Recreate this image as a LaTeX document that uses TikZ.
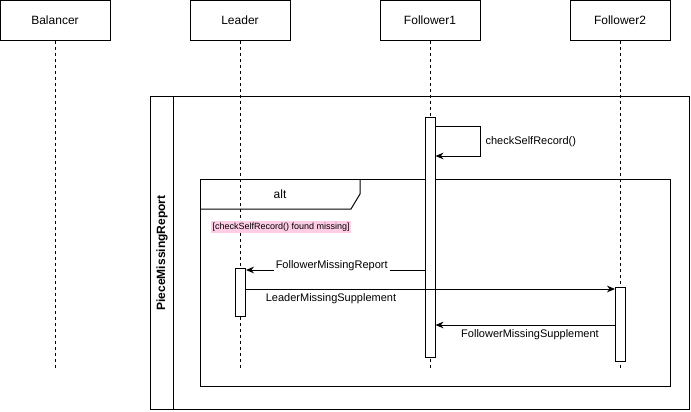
\documentclass[tikz,border=0pt]{standalone}
\usepackage{fontspec}
\setmainfont{Liberation Sans}
\usetikzlibrary{arrows.meta}
\definecolor{guardpink}{HTML}{FFCCE6}
\begin{document}
\begin{tikzpicture}[x=0.75pt,y=-0.75pt,
  head/.style={draw,line width=0.75pt,minimum height=30pt,inner sep=0pt,font=\fontsize{9}{11}\selectfont},
  life/.style={line width=0.6pt,dash pattern=on 2.25pt off 2.25pt},
  actbox/.style={draw,fill=white,line width=0.75pt,minimum width=7.5pt,inner sep=0pt},
  frame/.style={draw,line width=0.75pt},
  msg/.style={line width=0.75pt,-{Stealth[length=6pt,width=5pt]}},
  lbl/.style={font=\fontsize{8.25}{10}\selectfont,inner sep=1pt}]
\useasboundingbox (0,0) rectangle (691,411);
% headers
\node[head,minimum width=82.5pt] (bal) at (55,20) {Balancer};
\node[head,minimum width=75pt] (lead) at (240,20) {Leader};
\node[head,minimum width=75pt] (f1) at (430,20) {Follower1};
\node[head,minimum width=75pt] (f2) at (620,20) {Follower2};
% lifeline ends
\coordinate (balend) at (55,368);
\coordinate (leadend) at (240,368);
\coordinate (f1end) at (430,368);
\coordinate (f2end) at (620,368);
\draw[life] (bal.south) -- (balend);
\draw[life] (lead.south) -- (leadend);
\draw[life] (f1.south) -- (f1end);
\draw[life] (f2.south) -- (f2end);
% outer frame
\draw[frame] (150.5,96) rectangle (689.5,409.5);
\draw[frame] (173,96) -- (173,409.5);
\node[rotate=90,font=\fontsize{9}{11}\selectfont\bfseries] (pmr) at (162,253) {PieceMissingReport};
% alt frame
\draw[frame] (200,179.5) rectangle (670,386);
\draw[frame] (200,209) -- (351,209) -- (360,194) -- (360,179.5);
\node[font=\fontsize{9}{11}\selectfont] (alt) at (280,194) {alt};
\node[fill=guardpink,inner sep=1pt,font=\fontsize{6.75}{8}\selectfont,anchor=west] (guard) at (211,227) {[checkSelfRecord() found missing]};
% activations
\node[actbox,minimum height=180pt,anchor=north] (f1act) at (430,116.5) {};
\node[actbox,minimum height=36pt,anchor=north] (leadact) at (240.5,268) {};
\node[actbox,minimum height=55.5pt,anchor=north] (f2act) at (620.5,286.5) {};
% self loop
\coordinate (loopa) at (480,126);
\coordinate (loopb) at (480,156);
\draw[msg] (f1act.east |- loopa) -- (loopa) -- (loopb) -- (f1act.east |- loopb);
\node[lbl,anchor=west] (chk) at (484,142) {checkSelfRecord()};
% messages
\coordinate (m1) at (0,270);
\draw[msg] (f1act.west |- m1) -- (leadact.east |- m1)
  node[lbl,pos=0.52,fill=white,inner sep=1.5pt,yshift=3pt] (m1l) {FollowerMissingReport};
\coordinate (m2) at (0,289);
\draw[msg] (leadact.east |- m2) -- (f2act.west |- m2);
\node[lbl] (m2l) at (331,299) {LeaderMissingSupplement};
\coordinate (m3) at (0,325);
\draw[msg] (f2act.west |- m3) -- (f1act.east |- m3);
\node[lbl] (m3l) at (530,335) {FollowerMissingSupplement};
\end{tikzpicture}
\end{document}
